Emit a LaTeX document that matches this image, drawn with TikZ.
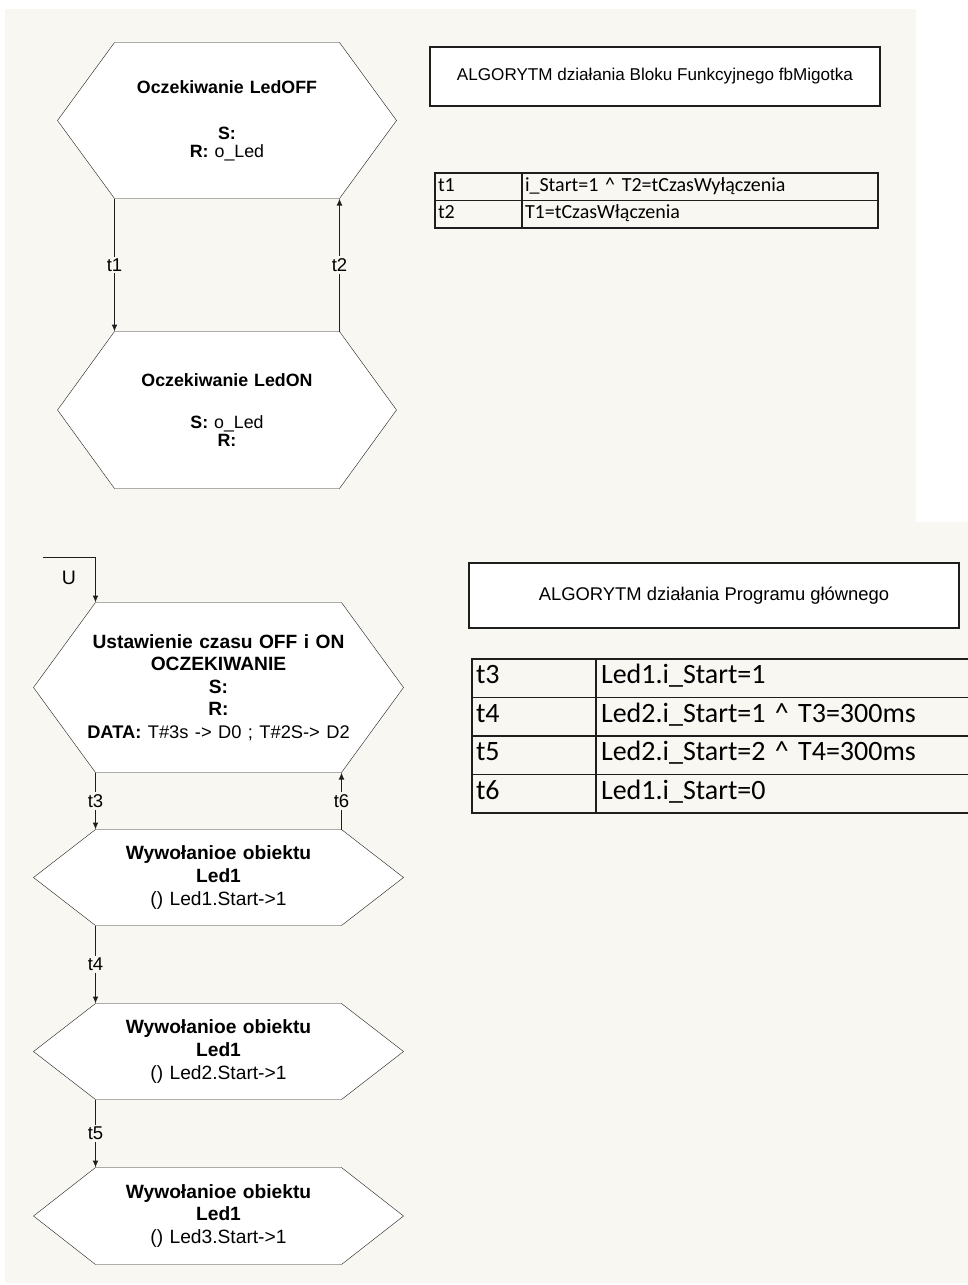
\documentclass[tikz,border=0pt]{standalone}
\usepackage{fontspec}
\setmainfont{Liberation Sans}
\newfontfamily\calibri{Carlito}
\usetikzlibrary{positioning, arrows.meta, calc}
\pgfdeclarelayer{background}
\pgfsetlayers{background,main}
\definecolor{paper}{RGB}{249,247,241}
\definecolor{ink}{RGB}{30,30,30}

\begin{document}
\begin{tikzpicture}[x=1pt, y=-1pt, line width=1.3pt,
  state/.style={rectangle, inner sep=0pt, outer sep=0pt, align=center, text width=225, font=\fontsize{17.8}{18}\selectfont},
  action/.style={rectangle, inner sep=0pt, outer sep=0pt, align=center, text width=246, font=\fontsize{19.2}{22.6}\selectfont},
  hexa/.style={draw=ink, fill=white},
  flow/.style={draw=ink, -{Latex[length=7pt,width=6pt]}},
  tlabel/.style={fill=paper, inner sep=2pt, font=\fontsize{18.5}{20}\selectfont},
  titlebox/.style={draw=ink, fill=white, inner sep=0pt},
  cell/.style={draw=ink, anchor=north west, inner xsep=3pt, inner ysep=0pt, outer sep=0pt, align=left, execute at begin node=\strut}]

\useasboundingbox (0,0) rectangle (968,1285);

% Function block fbMigotka
\node[state, minimum height=156] (ledoff) at (227,120.5) {\textbf{Oczekiwanie LedOFF}\\[28pt]\textbf{S:}\\\textbf{R:} o\_Led};
\node[state, minimum height=157] (ledon) at (227,410) {\textbf{Oczekiwanie LedON}\\[24pt]\textbf{S:} o\_Led\\\textbf{R:}};

% Transitions
\draw[flow] (ledoff.south west) -- node[tlabel]{t1} (ledon.north west);
\draw[flow] (ledon.north east) -- node[tlabel]{t2} (ledoff.south east);

% Title and conditions
\node[titlebox, minimum width=450, minimum height=59, font=\fontsize{17.1}{18}\selectfont] (title1) at (655,76.5) {ALGORYTM działania Bloku Funkcyjnego fbMigotka};

\foreach \k/\c [count=\i] in {t1/{i\_Start=1 \textasciicircum{} T2=tCzasWyłączenia}, t2/{T1=tCzasWłączenia}}{
  \node[cell, text width=81, minimum height=27.5, font=\calibri\fontsize{20}{22}\selectfont] (key\k) at (435,{173+27.5*(\i-1)}) {\k};
  \node[cell, text width=350, minimum height=27.5, font=\calibri\fontsize{20}{22}\selectfont] (cond\k) at (522,{173+27.5*(\i-1)}) {\c};
}

% Main program
\coordinate (ustart) at (43,557.5);
\node[font=\fontsize{19.5}{20}\selectfont] (ulabel) at (69,578) {U};

\node[action, minimum height=170] (init) at (218.5,687.5) {\makebox[246pt]{\textbf{Ustawienie czasu OFF i ON}}\\\textbf{OCZEKIWANIE}\\\textbf{S:}\\\textbf{R:}\\\makebox[246pt]{\fontsize{18.3}{22.6}\selectfont\textbf{DATA:} T\#3s -> D0 ; T\#2S-> D2}};
\node[action, minimum height=96, below=57pt of init] (call1) {\textbf{Wywołanioe obiektu}\\\textbf{Led1}\\() Led1.Start->1};
\node[action, minimum height=96, below=78pt of call1] (call2) {\textbf{Wywołanioe obiektu}\\\textbf{Led1}\\() Led2.Start->1};
\node[action, minimum height=97, below=68pt of call2] (call3) {\textbf{Wywołanioe obiektu}\\\textbf{Led1}\\() Led3.Start->1};

\draw[flow] (ustart) -| (init.north west);
\draw[flow] (init.south west) -- node[tlabel]{t3} (call1.north west);
\draw[flow] (call1.north east) -- node[tlabel]{t6} (init.south east);
\draw[flow] (call1.south west) -- node[tlabel]{t4} (call2.north west);
\draw[flow] (call2.south west) -- node[tlabel]{t5} (call3.north west);

\node[titlebox, minimum width=490, minimum height=65, font=\fontsize{18.4}{19}\selectfont] (title2) at (714,595.5) {ALGORYTM działania Programu głównego};

\foreach \k/\c [count=\i] in {t3/{Led1.i\_Start=1}, t4/{Led2.i\_Start=1 \textasciicircum{} T3=300ms}, t5/{Led2.i\_Start=2 \textasciicircum{} T4=300ms}, t6/{Led1.i\_Start=0}}{
  \node[cell, line width=1.4pt, inner xsep=4pt, text width=116, minimum height=38.5, font=\calibri\fontsize{28}{28}\selectfont] (key\k) at (472,{659+38.5*(\i-1)}) {\k};
  \node[cell, line width=1.4pt, inner xsep=5pt, text width=370, minimum height=38.5, font=\calibri\fontsize{28}{28}\selectfont] (cond\k) at (596,{659+38.5*(\i-1)}) {\c};
}
\draw[draw=ink, line width=2.5pt] (keyt5.north west) -- (condt5.north east);
\draw[draw=ink, line width=2.5pt] (keyt3.north east) -- (keyt6.south east);

\begin{pgfonlayer}{background}
  \fill[paper] (5,9) -- (916,9) -- (916,522) -- (968,522) -- (968,1283) -- (5,1283) -- cycle;
  \foreach \n/\d in {ledoff/57, ledon/57, init/62, call1/62, call2/62, call3/62}
    \filldraw[hexa] (\n.north west) -- (\n.north east) -- ($(\n.east)+(\d,0)$) -- (\n.south east) -- (\n.south west) -- ($(\n.west)+(-\d,0)$) -- cycle;
\end{pgfonlayer}

\end{tikzpicture}
\end{document}
